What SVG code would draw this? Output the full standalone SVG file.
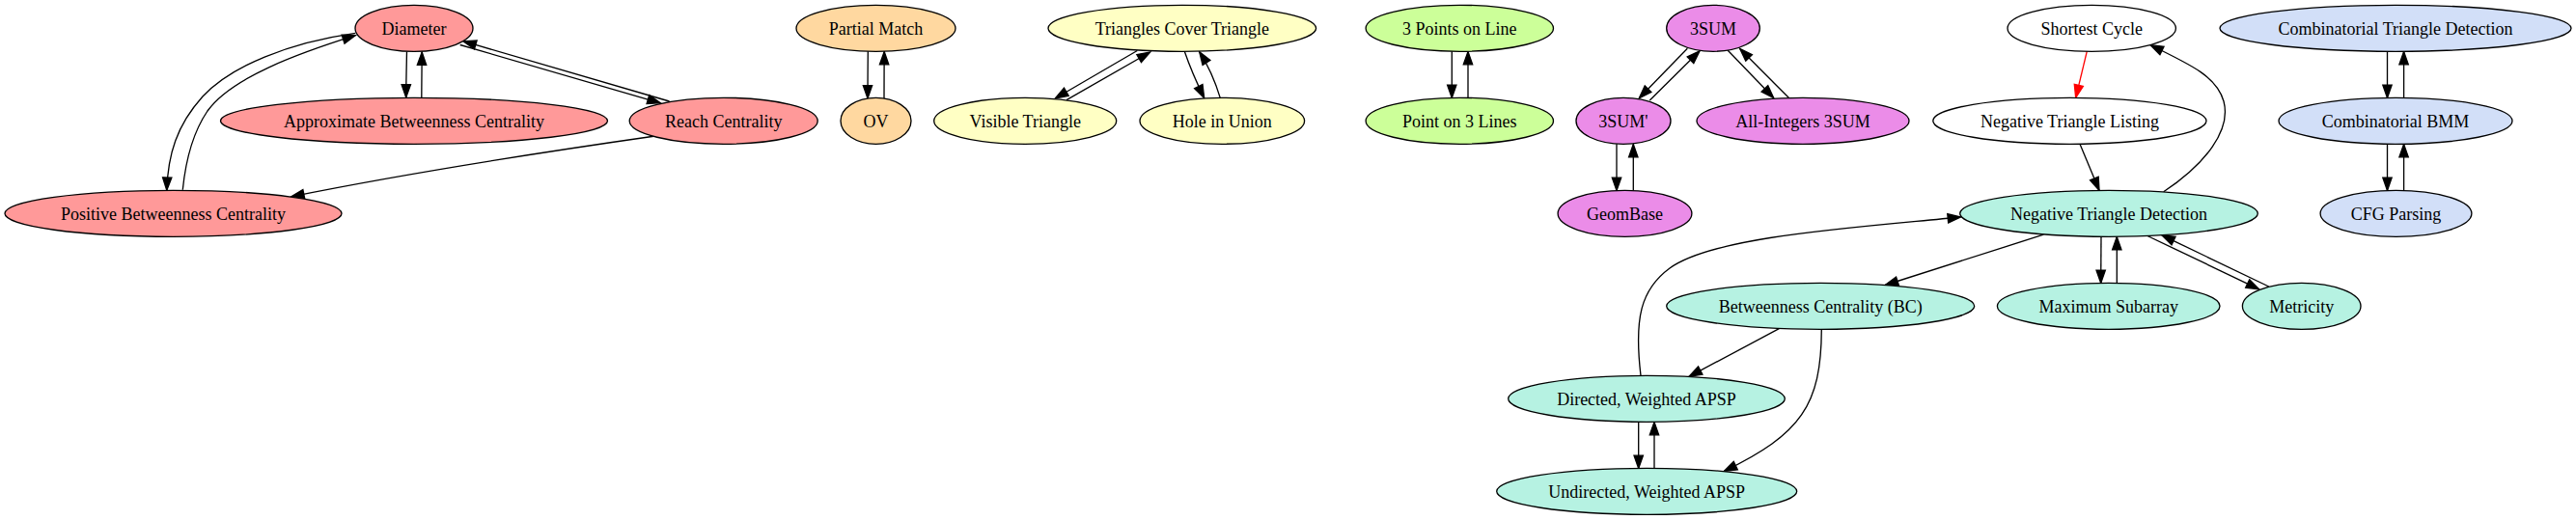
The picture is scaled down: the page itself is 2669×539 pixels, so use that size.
<svg xmlns="http://www.w3.org/2000/svg" width="2669" height="539" viewBox="0 0 2669 539">
<style>
.n ellipse{stroke:#000;stroke-width:1.33}
.n text{font-family:"Liberation Serif","Times New Roman",serif;font-size:18px;text-anchor:middle;fill:#000}
.red ellipse{fill:#FF9999}
.org ellipse{fill:#FFD8A0}
.yel ellipse{fill:#FFFFC4}
.grn ellipse{fill:#CCFF99}
.vio ellipse{fill:#EB8CE8}
.tea ellipse{fill:#B6F2E2}
.wht ellipse{fill:#FFFFFF}
.blu ellipse{fill:#D2DFF8}
#edges path{fill:none;stroke:#000;stroke-width:1.33;marker-end:url(#ah)}
#edges path.r{stroke:#FF0000;marker-end:url(#ahr)}
</style>
<defs>
<marker id="ah" markerUnits="userSpaceOnUse" viewBox="-2 -7 17 14" refX="13.33" refY="0" markerWidth="17" markerHeight="14" orient="auto" overflow="visible">
<path d="M0,-4.67 L13.33,0 L0,4.67 Z" fill="#000" stroke="#000" stroke-width="1.33"/>
</marker>
<marker id="ahr" markerUnits="userSpaceOnUse" viewBox="-2 -7 17 14" refX="13.33" refY="0" markerWidth="17" markerHeight="14" orient="auto" overflow="visible">
<path d="M0,-4.67 L13.33,0 L0,4.67 Z" fill="#FF0000" stroke="#FF0000" stroke-width="1.33"/>
</marker>
</defs>
<rect width="2669" height="539" fill="#FFFFFF"/>
<g id="edges">
<path d="M421.5,53.4 C421.2,68 420.8,84 420.7,101"/>
<path d="M436.8,101.2 C436.9,86 437,72 437.2,54"/>
<path d="M476.7,46.5 L684.2,106.8"/>
<path d="M693.5,105 L480,42.7"/>
<path d="M368.3,34.3 C300,44 240,68 210,100 C183,130 174,160 172.8,197.3"/>
<path d="M189.3,196.7 C192,170 198,140 215,115 C240,80 310,55 368.3,36.7"/>
<path d="M679,141 C560,158 420,180 301.7,203.8"/>
<path d="M899.3,53.2 C899.2,70 899,85 899,101.9"/>
<path d="M916,102 C916,85 916.1,70 916.2,53.5"/>
<path d="M1178.3,52.5 L1093.3,102"/>
<path d="M1105,103.6 L1191.7,54"/>
<path d="M1227.3,53.3 C1233,70 1240,86 1247.7,101.6"/>
<path d="M1264.3,101.6 C1259,84 1252,68 1242.7,53.8"/>
<path d="M1504.3,53.3 L1504.3,101.4"/>
<path d="M1521,101.4 L1521,53.5"/>
<path d="M1748.3,50.2 L1698.3,101.8"/>
<path d="M1709.3,104 L1761,52.8"/>
<path d="M1790,52 L1837.7,101.5"/>
<path d="M1854,102 L1802.7,50.5"/>
<path d="M1675,149.3 L1675,197.5"/>
<path d="M1692.3,197.5 L1692.3,149.5"/>
<path class="r" d="M2162.3,53.2 L2150.7,101.3"/>
<path d="M2155,149.3 L2175,197.3"/>
<path d="M2241.7,198.8 C2285,170 2312,135 2304,105 C2297,80 2272,68 2228,46.7"/>
<path d="M1700,389.3 C1693,330 1700,300 1730,278 C1775,245 1920,236 2031.5,225"/>
<path d="M2117.3,243.2 L1953.3,295.5"/>
<path d="M2177,245.3 C2176.8,260 2176.7,275 2176.7,293.4"/>
<path d="M2193.3,293.4 L2193.3,245.4"/>
<path d="M2225,244.5 L2340.7,299.8"/>
<path d="M2350.7,297 L2240,243.8"/>
<path d="M1843.3,340.6 L1750,390.3"/>
<path d="M1887.3,341.3 C1887,420 1866,450 1786.3,488.5"/>
<path d="M1697.7,437.3 L1697.7,485.5"/>
<path d="M1714,485.4 L1714,437.5"/>
<path d="M2473.5,53.3 L2473.5,101.4"/>
<path d="M2490.6,101.4 L2490.6,53.5"/>
<path d="M2473.5,149.3 L2473.5,197.4"/>
<path d="M2490.6,197.4 L2490.6,149.5"/>
</g>
<g id="diameter" class="n red"><ellipse cx="429" cy="29.3" rx="61" ry="24"/><text x="429" y="35.5">Diameter</text></g>
<g id="approx_bc" class="n red"><ellipse cx="429" cy="125.3" rx="200.5" ry="24"/><text x="429" y="131.5">Approximate Betweenness Centrality</text></g>
<g id="reach" class="n red"><ellipse cx="749.7" cy="125.3" rx="97.5" ry="24"/><text x="749.7" y="131.5">Reach Centrality</text></g>
<g id="pos_bc" class="n red"><ellipse cx="179.5" cy="221.3" rx="174.5" ry="24"/><text x="179.5" y="227.5">Positive Betweenness Centrality</text></g>
<g id="partial_match" class="n org"><ellipse cx="907.5" cy="29.3" rx="82.5" ry="24"/><text x="907.5" y="35.5">Partial Match</text></g>
<g id="ov" class="n org"><ellipse cx="907.5" cy="125.3" rx="36.5" ry="24"/><text x="907.5" y="131.5">OV</text></g>
<g id="tct" class="n yel"><ellipse cx="1224.8" cy="29.3" rx="138.8" ry="24"/><text x="1224.8" y="35.5">Triangles Cover Triangle</text></g>
<g id="visible" class="n yel"><ellipse cx="1062.2" cy="125.3" rx="94.5" ry="24"/><text x="1062.2" y="131.5">Visible Triangle</text></g>
<g id="hole" class="n yel"><ellipse cx="1266.3" cy="125.3" rx="85.3" ry="24"/><text x="1266.3" y="131.5">Hole in Union</text></g>
<g id="pts_line" class="n grn"><ellipse cx="1512.3" cy="29.3" rx="97.2" ry="24"/><text x="1512.3" y="35.5">3 Points on Line</text></g>
<g id="pt_lines" class="n grn"><ellipse cx="1512.3" cy="125.3" rx="97.2" ry="24"/><text x="1512.3" y="131.5">Point on 3 Lines</text></g>
<g id="sum3" class="n vio"><ellipse cx="1775" cy="29.3" rx="48.3" ry="24"/><text x="1775" y="35.5">3SUM</text></g>
<g id="sum3p" class="n vio"><ellipse cx="1682" cy="125.3" rx="49" ry="24"/><text x="1682" y="131.5">3SUM'</text></g>
<g id="allint" class="n vio"><ellipse cx="1868" cy="125.3" rx="110" ry="24"/><text x="1868" y="131.5">All-Integers 3SUM</text></g>
<g id="geombase" class="n vio"><ellipse cx="1683.5" cy="221.3" rx="69.4" ry="24"/><text x="1683.5" y="227.5">GeomBase</text></g>
<g id="shortest" class="n wht"><ellipse cx="2167.2" cy="29.3" rx="87.2" ry="24"/><text x="2167.2" y="35.5">Shortest Cycle</text></g>
<g id="ntl" class="n wht"><ellipse cx="2144.4" cy="125.3" rx="141.6" ry="24"/><text x="2144.4" y="131.5">Negative Triangle Listing</text></g>
<g id="ntd" class="n tea"><ellipse cx="2185" cy="221.3" rx="154.3" ry="24"/><text x="2185" y="227.5">Negative Triangle Detection</text></g>
<g id="bc" class="n tea"><ellipse cx="1886.2" cy="317.3" rx="159.5" ry="24"/><text x="1886.2" y="323.5">Betweenness Centrality (BC)</text></g>
<g id="maxsub" class="n tea"><ellipse cx="2184.7" cy="317.3" rx="115.3" ry="24"/><text x="2184.7" y="323.5">Maximum Subarray</text></g>
<g id="metricity" class="n tea"><ellipse cx="2384.7" cy="317.3" rx="61.3" ry="24"/><text x="2384.7" y="323.5">Metricity</text></g>
<g id="dir_apsp" class="n tea"><ellipse cx="1706" cy="413.3" rx="143.3" ry="24"/><text x="1706" y="419.5">Directed, Weighted APSP</text></g>
<g id="undir_apsp" class="n tea"><ellipse cx="1706.2" cy="509.3" rx="155.5" ry="24"/><text x="1706.2" y="515.5">Undirected, Weighted APSP</text></g>
<g id="ctd" class="n blu"><ellipse cx="2482" cy="29.3" rx="182" ry="24"/><text x="2482" y="35.5">Combinatorial Triangle Detection</text></g>
<g id="cbmm" class="n blu"><ellipse cx="2482" cy="125.3" rx="121" ry="24"/><text x="2482" y="131.5">Combinatorial BMM</text></g>
<g id="cfg" class="n blu"><ellipse cx="2482.5" cy="221.3" rx="78.4" ry="24"/><text x="2482.5" y="227.5">CFG Parsing</text></g>
</svg>
